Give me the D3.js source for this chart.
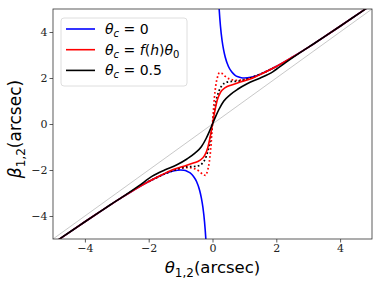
<!DOCTYPE html>
<html>
<head>
<meta charset="utf-8">
<script src="https://cdn.jsdelivr.net/npm/d3@7"></script>
<style>
  body { margin: 0; background: #fff; }
  svg { display: block; }
  .tick text { font-family: "DejaVu Serif", serif; font-size: 11px; fill: #222; }
</style>
</head>
<body>
<div id="chart"></div>
<script>
// values (theta, beta in arcsec)
var ticks = [-4, -2, 0, 2, 4];

var bluePosTheta = [0.18, 0.2, 0.25, 0.3, 0.35, 0.4, 0.5, 0.6, 0.7, 0.8, 0.9, 1.0, 1.2, 1.4, 1.6, 1.8, 2.0, 2.5, 3.0, 3.5, 4.0, 4.5, 5.0, 5.2];
var bluePosBeta  = [5.74, 5.2, 4.25, 3.63, 3.21, 2.9, 2.5, 2.27, 2.13, 2.05, 2.01, 2.0, 2.03, 2.11, 2.23, 2.36, 2.5, 2.9, 3.33, 3.79, 4.25, 4.72, 5.2, 5.39];
var blueNegTheta = [-5.2, -5.0, -4.5, -4.0, -3.5, -3.0, -2.5, -2.0, -1.8, -1.6, -1.4, -1.2, -1.0, -0.9, -0.8, -0.7, -0.6, -0.5, -0.4, -0.35, -0.3, -0.25, -0.2, -0.18];
var blueNegBeta  = [-5.39, -5.2, -4.72, -4.25, -3.79, -3.33, -2.9, -2.5, -2.36, -2.23, -2.11, -2.03, -2.0, -2.01, -2.05, -2.13, -2.27, -2.5, -2.9, -3.21, -3.63, -4.25, -5.2, -5.74];

var redTheta = [-5.2, -4.5, -4.0, -3.5, -3.0, -2.5, -2.0, -1.6, -1.25, -0.9, -0.6, -0.4, -0.25, -0.15, -0.07, 0, 0.07, 0.15, 0.25, 0.4, 0.6, 0.9, 1.25, 1.6, 2.0, 2.5, 3.0, 3.5, 4.0, 4.5, 5.2];
var redBeta  = [-5.39, -4.72, -4.25, -3.79, -3.33, -2.9, -2.5, -2.22, -1.99, -1.84, -1.7, -1.58, -1.38, -1.04, -0.54, 0, 0.54, 1.04, 1.38, 1.58, 1.7, 1.84, 1.99, 2.22, 2.5, 2.9, 3.33, 3.79, 4.25, 4.72, 5.39];

var blackTheta = [-5.2, -4.7, -4.2, -3.7, -3.2, -2.7, -2.3, -1.9, -1.5, -1.1, -0.8, -0.55, -0.35, -0.2, -0.1, 0, 0.1, 0.2, 0.35, 0.55, 0.8, 1.1, 1.5, 1.9, 2.3, 2.7, 3.2, 3.7, 4.2, 4.7, 5.2];
var blackBeta  = [-5.39, -4.91, -4.44, -3.97, -3.51, -3.06, -2.68, -2.28, -2.0, -1.76, -1.52, -1.27, -0.99, -0.63, -0.33, 0, 0.33, 0.63, 0.99, 1.27, 1.52, 1.76, 2.0, 2.28, 2.68, 3.06, 3.51, 3.97, 4.44, 4.91, 5.39];

var redDotTheta = [-2.0, -1.6, -1.25, -1.0, -0.75, -0.55, -0.4, -0.3, -0.22, -0.15, -0.1, -0.06, -0.03, 0, 0.03, 0.06, 0.1, 0.15, 0.22, 0.3, 0.4, 0.55, 0.75, 1.0, 1.25, 1.6, 2.0];
var redDotBeta  = [-2.5, -2.23, -2.02, -1.93, -1.9, -1.95, -2.07, -2.2, -2.23, -2.0, -1.65, -1.15, -0.6, 0, 0.6, 1.15, 1.65, 2.0, 2.23, 2.2, 2.07, 1.95, 1.9, 1.93, 2.02, 2.23, 2.5];

var blackDotTheta = [-2.0, -1.6, -1.3, -1.0, -0.8, -0.6, -0.45, -0.3, -0.2, -0.1, -0.05, 0, 0.05, 0.1, 0.2, 0.3, 0.45, 0.6, 0.8, 1.0, 1.3, 1.6, 2.0];
var blackDotBeta  = [-2.5, -2.23, -2.06, -1.92, -1.86, -1.85, -1.82, -1.68, -1.42, -0.9, -0.45, 0, 0.45, 0.9, 1.42, 1.68, 1.82, 1.85, 1.86, 1.92, 2.06, 2.23, 2.5];

var greyTheta = [-5, 5];
var greyBeta  = [-5, 5];

var legendColors = ["#0000ff", "#ff0000", "#000000"];

var margin = {top: 9, right: 10, bottom: 47, left: 53};
var width = 382 - margin.left - margin.right;
var height = 286 - margin.top - margin.bottom;

var svg = d3.select("#chart").append("svg")
    .attr("width", 382)
    .attr("height", 286);

var g = svg.append("g")
    .attr("transform", "translate(" + margin.left + "," + margin.top + ")");

var x = d3.scaleLinear().domain([-5, 5]).range([0, width]);
var y = d3.scaleLinear().domain([-5, 5]).range([height, 0]);

g.append("clipPath").attr("id", "clip")
    .append("rect").attr("width", width).attr("height", height);

var line = d3.line()
    .x(function(d) { return x(d[0]); })
    .y(function(d) { return y(d[1]); })
    .curve(d3.curveMonotoneX);

function pts(a, b) {
    return a.map(function(t, i) { return [t, b[i]]; });
}

var plot = g.append("g").attr("clip-path", "url(#clip)");

//grey reference line beta = theta
plot.append("path")
    .attr("d", d3.line().x(function(d) { return x(d[0]); }).y(function(d) { return y(d[1]); })(pts(greyTheta, greyBeta)))
    .attr("fill", "none").attr("stroke", "#b0b0b0").attr("stroke-width", 0.7);

[[bluePosTheta, bluePosBeta], [blueNegTheta, blueNegBeta]].forEach(function(s) {
    plot.append("path")
        .attr("d", line(pts(s[0], s[1])))
        .attr("fill", "none").attr("stroke", "#0000ff").attr("stroke-width", 1.6);
});

plot.append("path")
    .attr("d", line(pts(redDotTheta, redDotBeta)))
    .attr("fill", "none").attr("stroke", "#ff0000").attr("stroke-width", 1.7)
    .attr("stroke-dasharray", "1.7,2.3");

plot.append("path")
    .attr("d", line(pts(blackDotTheta, blackDotBeta)))
    .attr("fill", "none").attr("stroke", "#000").attr("stroke-width", 1.7)
    .attr("stroke-dasharray", "1.7,2.3");

plot.append("path")
    .attr("d", line(pts(redTheta, redBeta)))
    .attr("fill", "none").attr("stroke", "#ff0000").attr("stroke-width", 1.6);

plot.append("path")
    .attr("d", line(pts(blackTheta, blackBeta)))
    .attr("fill", "none").attr("stroke", "#000").attr("stroke-width", 1.6);

// axes
var fmt = function(d) { return d < 0 ? "\u2212" + Math.abs(d) : d; };
var xAxis = g.append("g")
    .attr("transform", "translate(0," + height + ")")
    .call(d3.axisBottom(x).tickValues(ticks).tickSize(3.5).tickPadding(2).tickFormat(fmt));

var yAxis = g.append("g")
    .call(d3.axisLeft(y).tickValues(ticks).tickSize(3.5).tickPadding(2).tickFormat(fmt));

[xAxis, yAxis].forEach(function(a) {
    a.select(".domain").remove();
    a.selectAll(".tick line").attr("stroke", "#333").attr("stroke-width", 0.8);
});

g.append("rect")
    .attr("width", width).attr("height", height)
    .attr("fill", "none").attr("stroke", "#333").attr("stroke-width", 0.8);

// axis labels
var xl = svg.append("text")
    .attr("x", margin.left + width / 2)
    .attr("y", 273)
    .attr("text-anchor", "middle")
    .style("font-family", "DejaVu Sans, sans-serif")
    .style("font-size", "16.5px");
xl.append("tspan").style("font-style", "italic").text("θ");
xl.append("tspan").attr("dy", 4).style("font-size", "12px").text("1,2");
xl.append("tspan").attr("dy", -4).text("(arcsec)");

var yl = svg.append("text")
    .attr("transform", "translate(21,129)rotate(-90)")
    .attr("text-anchor", "middle")
    .style("font-family", "DejaVu Sans, sans-serif")
    .style("font-size", "17px");
yl.append("tspan").style("font-style", "italic").text("β");
yl.append("tspan").attr("dy", 4).style("font-size", "12px").text("1,2");
yl.append("tspan").attr("dy", -4).text("(arcsec)");

// legend
var legend = svg.append("g").attr("transform", "translate(61,18)");
legend.append("rect")
    .attr("width", 126).attr("height", 68)
    .attr("rx", 3)
    .attr("fill", "#fff").attr("fill-opacity", 0.85)
    .attr("stroke", "#d5d5d5").attr("stroke-width", 0.8);

var rows = legend.selectAll(".lg")
    .data(d3.range(3))
    .enter().append("g")
    .attr("class", "lg")
    .attr("transform", function(d) { return "translate(0," + (11 + d * 20.7) + ")"; });

rows.append("line")
    .attr("x1", 5).attr("x2", 34)
    .attr("stroke", function(d) { return legendColors[d]; })
    .attr("stroke-width", 1.6);

var lt = rows.append("text")
    .attr("x", 44).attr("y", 5)
    .style("font-family", "DejaVu Sans, sans-serif")
    .style("font-size", "14px");
lt.append("tspan").style("font-style", "italic").text("θ");
lt.append("tspan").attr("dy", 3).style("font-size", "10px").style("font-style", "italic").text("c");
lt.each(function(d) {
    var t = d3.select(this);
    if (d === 0) {
        t.append("tspan").attr("dy", -3).text(" = 0");
    } else if (d === 2) {
        t.append("tspan").attr("dy", -3).text(" = 0.5");
    } else {
        t.append("tspan").attr("dy", -3).text(" = ");
        t.append("tspan").style("font-style", "italic").text("f");
        t.append("tspan").text("(");
        t.append("tspan").style("font-style", "italic").text("h");
        t.append("tspan").text(")");
        t.append("tspan").style("font-style", "italic").text("θ");
        t.append("tspan").attr("dy", 3).style("font-size", "10px").text("0");
    }
});
</script>
</body>
</html>
